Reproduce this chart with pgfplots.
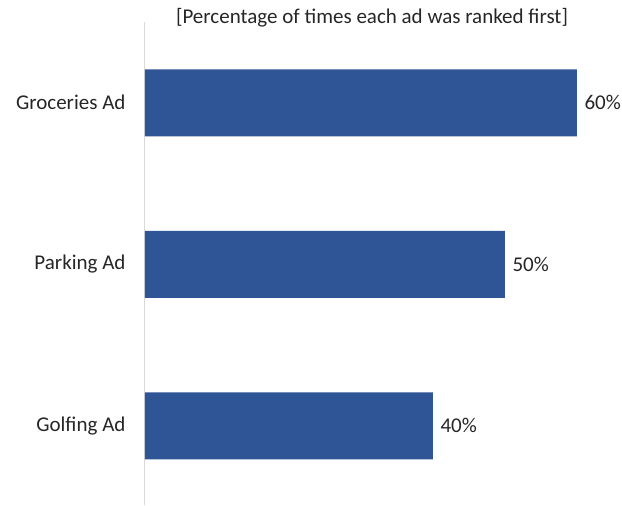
\documentclass[border=0pt]{standalone}
\usepackage{pgfplots}
\pgfplotsset{compat=1.18}
\usepackage{fontspec}
\setmainfont{Carlito}
\definecolor{barblue}{HTML}{2F5597}
\definecolor{txt}{HTML}{262626}
\begin{document}
\begin{tikzpicture}[x=1pt,y=1pt]
\useasboundingbox (0,0) rectangle (622,506);
\begin{axis}[
  at={(145pt,1pt)}, anchor=south west,
  scale only axis, width=432pt, height=483pt,
  xmin=0, xmax=60, ymin=-0.49, ymax=2.5,
  xbar, bar width=67pt,
  axis x line=none,
  axis y line=left,
  y axis line style={draw=black!15, line width=1pt, -},
  ytick={0,1,2},
  yticklabels={Golfing Ad, Parking Ad, Groceries Ad},
  major tick length=0pt,
  yticklabel style={font=\fontsize{21}{24}\selectfont, text=txt, xshift=-16pt},
  /pgf/number format/assume math mode=true,
  nodes near coords={\pgfmathprintnumber{\pgfplotspointmeta}\%},
  nodes near coords style={font=\fontsize{21}{24}\selectfont, text=txt, xshift=4pt},
  point meta=x,
  clip=false,
]
\addplot[fill=barblue, draw=none] coordinates {(40,0) (50,1) (60,2)};
\end{axis}
\node[font=\fontsize{21}{24}\selectfont, text=txt] at (372,488) {[Percentage of times each ad was ranked first]};
\end{tikzpicture}
\end{document}
